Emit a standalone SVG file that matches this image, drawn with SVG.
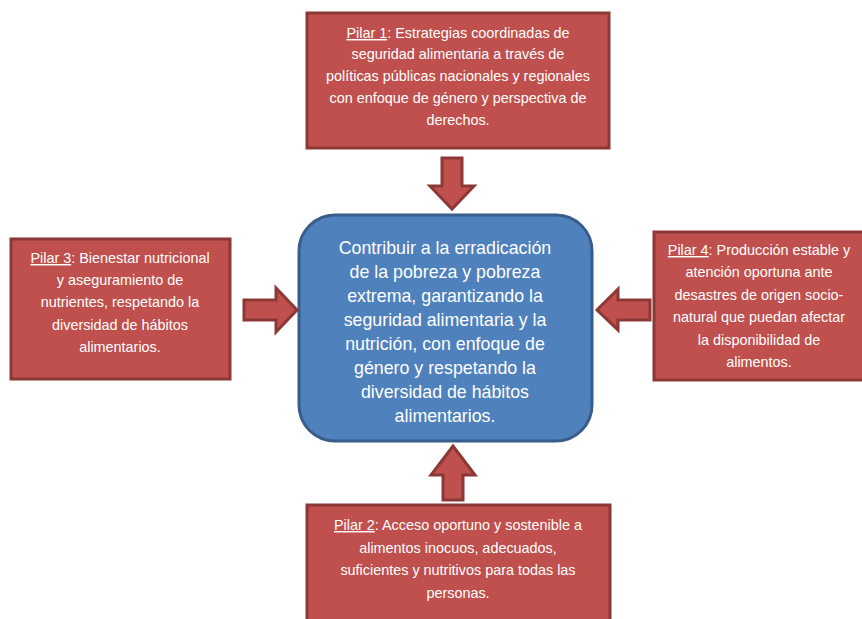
<svg xmlns="http://www.w3.org/2000/svg" width="862" height="619" viewBox="0 0 862 619">
<style>
.red{fill:#C0504D;stroke:#8C3836;stroke-width:3}
.blue{fill:#4F81BD;stroke:#385D8A;stroke-width:3}
.t{font-family:"Liberation Sans",Arial,sans-serif;font-size:14.4px;fill:#FFFFFF;text-anchor:middle}
.c{font-family:"Liberation Sans",Arial,sans-serif;font-size:17.8px;fill:#FFFFFF;text-anchor:middle}
.u{text-decoration:underline}
</style>
<rect width="862" height="619" fill="#FFFFFF"/>
<g id="pilar1">
<rect class="red" x="307" y="13" width="302" height="135"/>
<text class="t" x="458" y="38"><tspan class="u">Pilar 1</tspan>: Estrategias coordinadas de</text>
<text class="t" x="458" y="59">seguridad alimentaria a través de</text>
<text class="t" x="458" y="81">políticas públicas nacionales y regionales</text>
<text class="t" x="458" y="103">con enfoque de género y perspectiva de</text>
<text class="t" x="458" y="125">derechos.</text>
</g>
<g id="pilar3">
<rect class="red" x="11" y="239" width="219" height="140"/>
<text class="t" x="120" y="263"><tspan class="u">Pilar 3</tspan>: Bienestar nutricional</text>
<text class="t" x="120" y="285">y aseguramiento de</text>
<text class="t" x="120" y="307">nutrientes, respetando la</text>
<text class="t" x="120" y="330">diversidad de hábitos</text>
<text class="t" x="120" y="352">alimentarios.</text>
</g>
<g id="pilar4">
<rect class="red" x="654" y="232" width="210" height="148"/>
<text class="t" x="759" y="255"><tspan class="u">Pilar 4</tspan>: Producción estable y</text>
<text class="t" x="759" y="277">atención oportuna ante</text>
<text class="t" x="759" y="300">desastres de origen socio-</text>
<text class="t" x="759" y="322">natural que puedan afectar</text>
<text class="t" x="759" y="345">la disponibilidad de</text>
<text class="t" x="759" y="367">alimentos.</text>
</g>
<g id="pilar2">
<rect class="red" x="307" y="505" width="303" height="130"/>
<text class="t" x="458" y="530"><tspan class="u">Pilar 2</tspan>: Acceso oportuno y sostenible a</text>
<text class="t" x="458" y="553">alimentos inocuos, adecuados,</text>
<text class="t" x="458" y="575">suficientes y nutritivos para todas las</text>
<text class="t" x="458" y="598">personas.</text>
</g>
<g id="center">
<rect class="blue" x="299" y="215" width="293" height="226" rx="36" ry="36"/>
<text class="c" x="445" y="254">Contribuir a la erradicación</text>
<text class="c" x="445" y="278">de la pobreza y pobreza</text>
<text class="c" x="445" y="302">extrema, garantizando la</text>
<text class="c" x="445" y="326">seguridad alimentaria y la</text>
<text class="c" x="445" y="350">nutrición, con enfoque de</text>
<text class="c" x="445" y="374">género y respetando la</text>
<text class="c" x="445" y="398">diversidad de hábitos</text>
<text class="c" x="445" y="422">alimentarios.</text>
</g>
<g id="connectors">
<polygon class="red" points="442,158 462,158 462,186 474,186 452,209 430,186 442,186"/>
<polygon class="red" points="443,500 463,500 463,475 475,475 453,446 431,475 443,475"/>
<polygon class="red" points="244,300 276,300 276,288 297,310 276,332 276,320 244,320"/>
<polygon class="red" points="650,300 618,300 618,289 597,310 618,330 618,320 650,320"/>
</g>
</svg>
